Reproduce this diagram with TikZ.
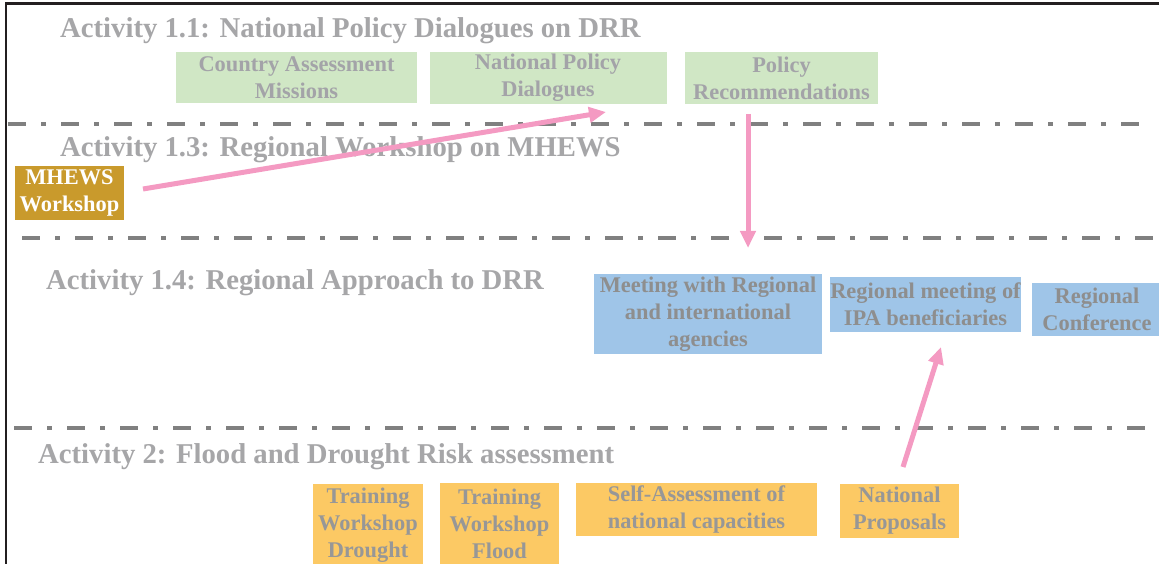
\documentclass[tikz,border=0pt]{standalone}
\usepackage{fontspec}
\setmainfont{Liberation Serif}
\usetikzlibrary{arrows.meta}
\definecolor{headgray}{HTML}{A6A6A8}
\definecolor{greentext}{HTML}{A3A3A8}
\definecolor{bluetext}{HTML}{8E8E8E}
\definecolor{orangetext}{HTML}{979797}
\definecolor{greenfill}{HTML}{D0E7C5}
\definecolor{bluefill}{HTML}{9FC5E8}
\definecolor{orangefill}{HTML}{FCC964}
\definecolor{goldfill}{HTML}{C99A2C}
\definecolor{pinkline}{HTML}{F49AC2}
\definecolor{sepgray}{HTML}{808080}
\definecolor{framecol}{HTML}{231F20}
\tikzset{
  heading/.style={anchor=base west, inner sep=0pt, text=headgray,
    font=\fontsize{28.7}{34}\selectfont\bfseries},
  boxbase/.style={inner sep=0pt, align=center,
    font=\fontsize{22.4}{26.8}\selectfont\bfseries},
  greenbox/.style={boxbase, fill=greenfill, text=greentext},
  bluebox/.style={boxbase, fill=bluefill, text=bluetext},
  orangebox/.style={boxbase, fill=orangefill, text=orangetext},
  goldbox/.style={boxbase, fill=goldfill, text=white},
  separator/.style={draw=sepgray, line width=4pt,
    dash pattern=on 18pt off 15pt on 5pt off 15pt},
  flow/.style={draw=pinkline, line width=5pt,
    -{Triangle[length=17pt,width=15pt]}},
}
\begin{document}
\begin{tikzpicture}[x=1pt,y=-1pt]
\useasboundingbox (0,0) rectangle (1159,564);
\clip (0,0) rectangle (1159,564);
\fill[white] (0,0) rectangle (1159,564);

% frame (top and left edges)
\draw[framecol, line width=3pt] (5,4) -- (1159,4);
\draw[framecol, line width=2.5pt] (6,3) -- (6,564);

% section separators
\coordinate (s1a) at (8,124);   \coordinate (s1b) at (1142,124);
\coordinate (s2a) at (22,238);  \coordinate (s2b) at (1156,238);
\coordinate (s3a) at (14,428);  \coordinate (s3b) at (1146,428);
\draw[separator] (s1a) -- (s1b);
\draw[separator] (s2a) -- (s2b);
\draw[separator] (s3a) -- (s3b);

% section headings
\node[heading] (h11) at (60,38)  {Activity 1.1: National Policy Dialogues on DRR};
\node[heading] (h13) at (60,157) {Activity 1.3: Regional Workshop on MHEWS};
\node[heading] (h14) at (46,289) {Activity 1.4: Regional Approach to DRR};
\node[heading] (h2)  at (38,463) {Activity 2: Flood and Drought Risk assessment};

% activity 1.1
\node[greenbox, minimum width=241pt, minimum height=51pt] (cam) at (296.5,77.5) {Country Assessment\\Missions};
\node[greenbox, minimum width=237pt, minimum height=52pt] (npd) at (548,78) {National Policy\\Dialogues};
\node[greenbox, minimum width=193pt, minimum height=52pt] (prec) at (781.5,78) {Policy\\Recommendations};

% activity 1.3
\node[goldbox, minimum width=109pt, minimum height=54pt] (mhews) at (69.5,193) {MHEWS\\Workshop};

% activity 1.4
\node[bluebox, minimum width=228pt, minimum height=80pt] (meet) at (708,314) {Meeting with Regional\\and international\\agencies};
\node[bluebox, minimum width=191pt, minimum height=55pt] (ipa) at (925.5,304.5) {Regional meeting of\\IPA beneficiaries};
\node[bluebox, minimum width=130pt, minimum height=53pt] (conf) at (1097,309.5) {Regional\\Conference};

% activity 2
\node[orangebox, minimum width=110pt, minimum height=82pt] (drought) at (368,525) {Training\\Workshop\\Drought};
\node[orangebox, minimum width=119pt, minimum height=82pt] (flood) at (499.5,524) {Training\\Workshop\\Flood};
\node[orangebox, minimum width=241pt, minimum height=53pt] (selfas) at (696.5,509.5) {Self-Assessment of\\national capacities};
\node[orangebox, minimum width=119pt, minimum height=54pt] (natprop) at (899.5,511) {National\\Proposals};

% flow arrows
\coordinate (f1a) at (143,189); \coordinate (f1b) at (606,112);
\coordinate (f2a) at (748,114); \coordinate (f2b) at (748,248);
\coordinate (f3a) at (903,467); \coordinate (f3b) at (941,347);
\draw[flow] (f1a) -- (f1b);
\draw[flow] (f2a) -- (f2b);
\draw[flow] (f3a) -- (f3b);
\end{tikzpicture}
\end{document}
